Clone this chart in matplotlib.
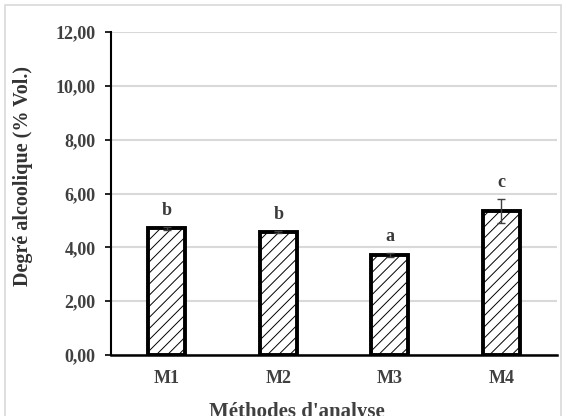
import numpy as np
import matplotlib
matplotlib.use("Agg")
import matplotlib.pyplot as plt
from matplotlib.patches import Rectangle

# valeurs moyennes et écarts-types
methodes = ["M1", "M2", "M3", "M4"]
degre = [4.70, 4.57, 3.72, 5.35]
ecart = [0.04, 0.04, 0.08, 0.43]
lettres = ["b", "b", "a", "c"]
yticks = [0, 2, 4, 6, 8, 10, 12]

plt.rcParams['font.family'] = ['Liberation Serif', 'DejaVu Serif']
plt.rcParams['hatch.linewidth'] = 0.7
plt.rcParams['hatch.color'] = '#333333'

fig = plt.figure(figsize=(5.66, 4.16), dpi=100)
fig.patches.append(Rectangle((5/566, -0.1), 556/566, 1.1 - 5/416,
                             transform=fig.transFigure, fill=False,
                             edgecolor="#d9d9d9", linewidth=1.2))
ax = fig.add_axes([111/566, 1 - 355/416, 446/566, 323/416])

x = np.arange(len(methodes))
ax.bar(x, degre, width=0.33, color="white", edgecolor="black",
       linewidth=2.8, hatch="///", zorder=3)
ax.errorbar(x, degre, yerr=ecart, fmt="none", ecolor="#404040",
            elinewidth=1, capsize=3, capthick=1, zorder=4)

for xi, v, e, l in zip(x, degre, ecart, lettres):
    ax.text(xi, v + e + 0.62, l, ha="center", va="center",
            fontsize=13, fontweight="bold", color="#3a3a3a")

ax.set_xlim(-0.5, 3.5)
ax.set_ylim(0, 12)
ax.set_yticks(yticks)
ax.set_yticklabels([f"{t:.2f}".replace(".", ",") for t in yticks])
ax.set_xticks(x)
ax.set_xticklabels(methodes)
ax.tick_params(axis="y", direction="out", length=4, width=1.2,
               labelsize=13, labelcolor="#404040", pad=7)
ax.tick_params(axis="x", length=0, labelsize=13, labelcolor="#404040", pad=11)
for lab in ax.get_xticklabels() + ax.get_yticklabels():
    lab.set_fontweight("bold")

ax.grid(axis="y", color="#d9d9d9", linewidth=1.5, zorder=0)
ax.set_axisbelow(True)
for s in ["top", "right"]:
    ax.spines[s].set_visible(False)
ax.spines["left"].set_linewidth(1.5)
ax.spines["bottom"].set_linewidth(1.8)

fig.text(23/566, 1 - 176/416, "Degré alcoolique (% Vol.)", rotation=90,
         ha="center", va="center", fontsize=14.5, fontweight="bold",
         color="#333333")
fig.text(297/566, 1 - 402/416, "Méthodes d'analyse", ha="center", va="top",
         fontsize=15, fontweight="bold", color="#404040")

fig.savefig("out.png", dpi=100)
